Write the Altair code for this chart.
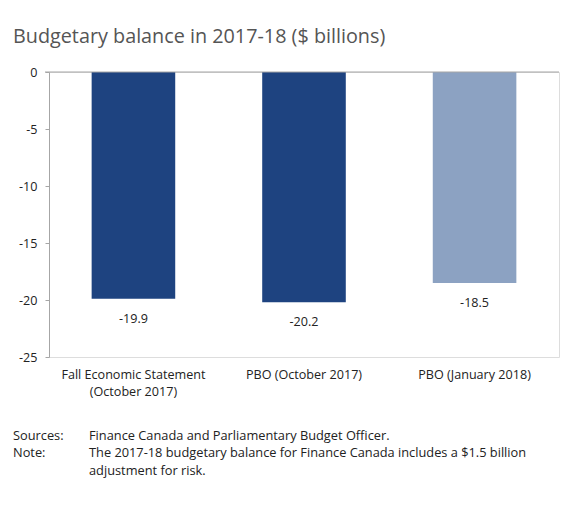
import altair as alt
import pandas as pd


FONT = "Open Sans"

categories = [
    "Fall Economic Statement\n(October 2017)",
    "PBO (October 2017)",
    "PBO (January 2018)",
]
balances = [-19.9, -20.2, -18.5]
bar_colors = ["#1e4380", "#1e4380", "#8ca2c2"]
y_ticks = [0, -5, -10, -15, -20, -25]

title_text = "Budgetary balance in 2017-18 ($ billions)"
note_labels = ["Sources:", "Note:", ""]
note_texts = [
    "Finance Canada and Parliamentary Budget Officer.",
    "The 2017-18 budgetary balance for Finance Canada includes a $1.5 billion",
    "adjustment for risk.",
]
note_rows = [364, 381, 399]

bars_df = pd.DataFrame({"source": categories, "balance": balances, "color": bar_colors})

x_enc = alt.X(
    "source:N",
    sort=categories,
    title=None,
    scale=alt.Scale(paddingInner=0.51, paddingOuter=0.25),
    axis=alt.Axis(
        orient="bottom",
        domain=False,
        ticks=False,
        labelAngle=0,
        labelExpr="split(datum.label, '\\n')",
        labelFont=FONT,
        labelFontSize=12.6,
        labelColor="#222",
        labelPadding=11,
        labelLineHeight=17,
    ),
)
y_enc = alt.Y(
    "balance:Q",
    title=None,
    scale=alt.Scale(domain=[-25, 0], nice=False),
    axis=alt.Axis(
        values=y_ticks,
        grid=False,
        domainColor="#a6a6a6",
        tickColor="#a6a6a6",
        tickSize=4,
        labelExpr="replace(datum.label, '\u2212', '-')",
        labelFont=FONT,
        labelFontSize=12.6,
        labelColor="#222",
        labelPadding=8,
    ),
)

base = alt.Chart(bars_df)
# one-row source for annotations so each text is drawn once
single = alt.Chart(pd.DataFrame({"row": [0]}))

bars = base.mark_bar().encode(
    x=x_enc,
    y=y_enc,
    color=alt.Color("color:N", scale=None),
)

values = (
    base.transform_calculate(label="replace(format(datum.balance, '.1f'), '\u2212', '-')")
    .mark_text(font=FONT, fontSize=12.6, color="#222", baseline="middle", dy=20)
    .encode(
        x=alt.X("source:N", sort=categories),
        y="balance:Q",
        text="label:N",
    )
)

zero_line = single.mark_rule(color="#a6a6a6", strokeWidth=1.2).encode(
    x=alt.value(-4),
    x2=alt.value(510),
    y=alt.datum(0),
)

title = single.mark_text(
    font=FONT, fontSize=19.8, color="#555", align="left", baseline="middle"
).encode(
    x=alt.value(-36),
    y=alt.value(-35),
    text=alt.value(title_text),
)

note_layers = []
for label, text, row in zip(note_labels, note_texts, note_rows):
    style = dict(font=FONT, fontSize=12.8, color="#222", align="left", baseline="middle")
    if label:
        note_layers.append(
            single.mark_text(**style).encode(x=alt.value(-36), y=alt.value(row), text=alt.value(label))
        )
    note_layers.append(
        single.mark_text(**style).encode(x=alt.value(40), y=alt.value(row), text=alt.value(text))
    )

chart = (
    alt.layer(bars, values, zero_line, title, *note_layers)
    .properties(
        width=510,
        height=285,
        padding={"left": 41, "top": 64, "right": 9, "bottom": 130},
        autosize=alt.AutoSizeParams(type="none"),
    )
    .configure_view(stroke=None)
    .configure(background="white")
)

chart.save("out.html", embed_options={"renderer": "svg", "actions": False})
